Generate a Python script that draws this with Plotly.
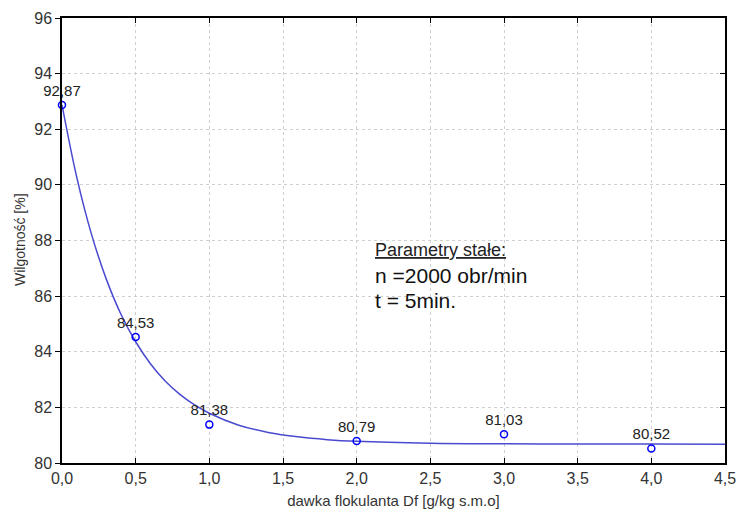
import plotly.graph_objects as go

# measured points
dose = [0.0, 0.5, 1.0, 2.0, 3.0, 4.0]
moisture = [92.87, 84.53, 81.38, 80.79, 81.03, 80.52]
labels = ["92,87", "84,53", "81,38", "80,79", "81,03", "80,52"]

# fitted curve, values
curve_x = [0.0, 0.1, 0.2, 0.3, 0.4, 0.5, 0.6, 0.7, 0.8, 0.9, 1.0, 1.2, 1.4,
           1.6, 1.8, 2.0, 2.5, 3.0, 3.5, 4.0, 4.5]
curve_y = [92.88, 90.28, 88.23, 86.62, 85.35, 84.36, 83.57, 82.95, 82.47,
           82.09, 81.79, 81.36, 81.10, 80.94, 80.84, 80.78, 80.71, 80.69,
           80.68, 80.68, 80.67]

x_ticks = [0.0, 0.5, 1.0, 1.5, 2.0, 2.5, 3.0, 3.5, 4.0, 4.5]
y_ticks = [80, 82, 84, 86, 88, 90, 92, 94, 96]

FONT = "Liberation Sans, Arial, sans-serif"

fig = go.Figure()
fig.add_trace(go.Scatter(x=curve_x, y=curve_y, mode="lines",
                         line=dict(color="#4a4ad0", width=1.5, shape="spline"),
                         hoverinfo="skip", showlegend=False))
fig.add_trace(go.Scatter(x=dose, y=moisture, mode="markers+text",
                         text=labels, textposition="top center",
                         textfont=dict(family=FONT, size=15, color="#222"),
                         marker=dict(symbol="circle-open", size=7, color="#0000ff",
                                     line=dict(width=1.5, color="#0000ff")),
                         showlegend=False, cliponaxis=False))
# right axis dummy for inward ticks
fig.add_trace(go.Scatter(x=[None], y=[None], yaxis="y2", showlegend=False))

fig.update_layout(
    width=737, height=515,
    margin=dict(l=62, r=12, t=18, b=52, autoexpand=False),
    paper_bgcolor="white", plot_bgcolor="white",
    separators=", ",
    font=dict(family=FONT, color="#222"),
    xaxis=dict(range=[0, 4.5], tickvals=x_ticks, tickformat=".1f",
               automargin=False,
               showgrid=True, gridcolor="#d0d0d0", griddash="dot", gridwidth=1,
               showline=True, linecolor="black", linewidth=1.5, mirror="ticks",
               ticks="inside", ticklen=5, tickcolor="black",
               tickfont=dict(size=16, family=FONT, color="#333"),
               title=dict(text="dawka flokulanta Df [g/kg s.m.o]",
                          font=dict(size=15, family=FONT, color="#333"), standoff=10),
               zeroline=False),
    yaxis=dict(range=[80, 96], tickvals=y_ticks, automargin=False,
               showgrid=True, gridcolor="#d0d0d0", griddash="dot", gridwidth=1,
               showline=True, linecolor="black", linewidth=1.5, mirror=True,
               ticks="outside", ticklen=5, tickcolor="black",
               tickfont=dict(size=16, family=FONT, color="#333"),
               zeroline=False),
    yaxis2=dict(range=[80, 96], tickvals=y_ticks, overlaying="y", side="right",
                automargin=False,
                showticklabels=False, ticks="inside", ticklen=5, tickcolor="black",
                showgrid=False, zeroline=False, showline=False),
)

# y-axis title
fig.add_annotation(xref="paper", yref="paper", x=-62 / 663 + 20 / 663, y=(463 - 240) / 445,
                   text="Wilgotność [%]", showarrow=False, textangle=-90,
                   xanchor="center", yanchor="middle",
                   font=dict(size=14, family=FONT, color="#333"))

ax = (373 - 62) / 663
fig.add_annotation(xref="paper", yref="paper", x=ax, y=(463 - 250) / 445,
                   text="<u>Parametry stałe:</u>", showarrow=False,
                   xanchor="left", yanchor="middle",
                   font=dict(size=18, family=FONT, color="#222"))
fig.add_annotation(xref="paper", yref="paper", x=ax, y=(463 - 275) / 445,
                   text="n =2000 obr/min", showarrow=False,
                   xanchor="left", yanchor="middle",
                   font=dict(size=21, family=FONT, color="#111"))
fig.add_annotation(xref="paper", yref="paper", x=ax, y=(463 - 300) / 445,
                   text="t = 5min.", showarrow=False,
                   xanchor="left", yanchor="middle",
                   font=dict(size=21, family=FONT, color="#111"))

fig.write_html("out.html")
